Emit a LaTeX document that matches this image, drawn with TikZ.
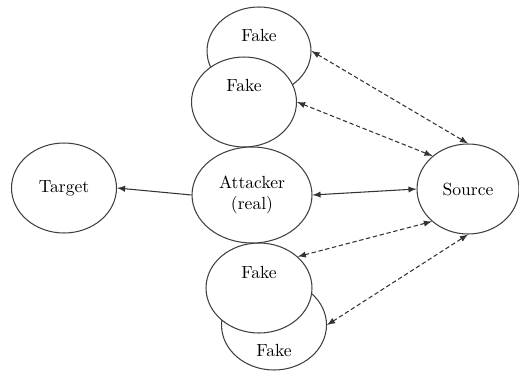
\documentclass[tikz,border=0pt]{standalone}
\usepackage{tikz}
\usetikzlibrary{shapes.geometric,arrows}
\tikzset{
  blob/.style={
    shape = ellipse,
    draw = black!75,
    line width = 0.6pt,
    fill = white,
    inner sep = 0pt,
    minimum width = 2.1cm,
    minimum height = 1.8cm
  },
  link/.style={
    draw = black!80,
    line width = 0.6pt,
    >=latex
  },
  fakelink/.style={
    link,
    dash pattern = on 2.5pt off 1.5pt
  },
}
\begin{document}
\begin{tikzpicture}[x=0.02cm,y=-0.02cm]
\useasboundingbox (0,0) rectangle (519,371);
% fakes behind
\node[blob, minimum width=2.08cm, minimum height=1.76cm,
  label={[yshift=0.32cm]center:Fake}] (fa) at (259,51) {};
\node[blob, label={[yshift=0.34cm]center:Fake}] (fb) at (244,102) {};
\node[blob, label={[yshift=-0.5cm]center:Fake}] (fd) at (274,325) {};
\node[blob, minimum width=2.12cm, label={[yshift=0.32cm]center:Fake}] (fc) at (259,288) {};
% real ones
\node[blob, minimum width=2.4cm, minimum height=1.92cm, align=center] (att) at (252,195) {Attacker\\(real)};
\node[blob] (tgt) at (64,188) {Target};
\node[blob, minimum width=2.04cm] (src) at (468,189) {Source};
\draw[link,->] (att.west) -- (tgt.east);
\draw[link,<->] (att.east) -- (src.west);
\draw[fakelink,<->] (fa.east) -- (src.north);
\draw[fakelink,<->] (fb.east) -- (src.137);
\draw[fakelink,<->] (fc.39) -- (src.222);
\draw[fakelink,<->] (fd.east) -- (src.south);
\end{tikzpicture}
\end{document}
